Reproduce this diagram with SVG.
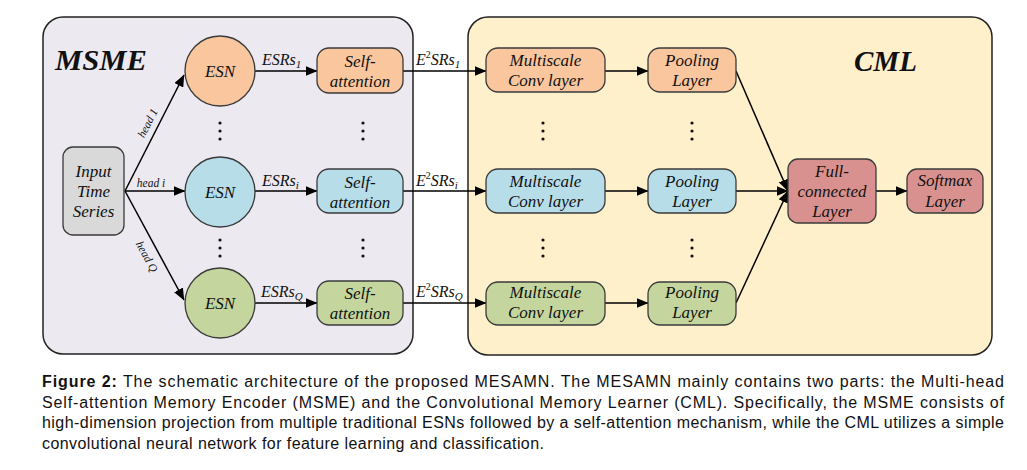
<svg xmlns="http://www.w3.org/2000/svg" width="1027" height="470" viewBox="0 0 1027 470">
<style>
.bg{fill:#fff}
.panel{stroke:#222;stroke-width:1.5}
.node{stroke:#3a3a3a;stroke-width:1.3}
.nt{font-family:"Liberation Serif","Times New Roman",serif;font-style:italic;font-size:17px;fill:#111;text-anchor:middle}
.lbl{font-family:"Liberation Serif","Times New Roman",serif;font-style:italic;font-size:16px;fill:#111}
.hd{font-family:"Liberation Serif","Times New Roman",serif;font-style:italic;font-size:11.5px;fill:#111;text-anchor:middle}
.title{font-family:"Liberation Serif","Times New Roman",serif;font-style:italic;font-weight:bold;font-size:29px;fill:#111}
.cap{font-family:"Liberation Sans",Arial,sans-serif;font-size:16px;fill:#111}
.conn line{stroke:#000;stroke-width:1.5;marker-end:url(#arr)}
.dot{fill:#111}
.or{fill:#F9C69E}.bl{fill:#B6DDE8}.gr{fill:#C4D69D}.rd{fill:#D9918F}.gy{fill:#D9D9D9}
</style>
<defs>
<marker id="arr" markerWidth="12" markerHeight="10" refX="11.5" refY="5" orient="auto" markerUnits="userSpaceOnUse">
<path d="M0,0 L12,5 L0,10 z" fill="#000"/>
</marker>
</defs>
<rect class="bg" x="0" y="0" width="1027" height="470"/>

<g id="panel-msme">
<rect class="panel" x="43" y="17" width="370" height="337" rx="20" fill="#ECE9F1"/>
<text class="title" x="55" y="70" textLength="92" lengthAdjust="spacingAndGlyphs">MSME</text>
</g>
<g id="panel-cml">
<rect class="panel" x="468" y="17" width="524" height="338" rx="20" fill="#FFF0CC"/>
<text class="title" x="854" y="71">CML</text>
</g>

<g id="connectors" class="conn">
<line x1="125" y1="191" x2="184" y2="75"/>
<line x1="125" y1="191" x2="185" y2="191"/>
<line x1="125" y1="191" x2="184" y2="300"/>
<line x1="255" y1="71" x2="317" y2="71"/>
<line x1="255" y1="191" x2="317" y2="191"/>
<line x1="255" y1="303" x2="317" y2="303"/>
<line x1="403" y1="71" x2="486" y2="71"/>
<line x1="403" y1="191" x2="486" y2="191"/>
<line x1="403" y1="303" x2="486" y2="303"/>
<line x1="605" y1="71" x2="648" y2="71"/>
<line x1="605" y1="191" x2="648" y2="191"/>
<line x1="605" y1="303" x2="648" y2="303"/>
<line x1="736" y1="71" x2="788" y2="191"/>
<line x1="736" y1="191" x2="788" y2="191"/>
<line x1="736" y1="303" x2="788" y2="191"/>
<line x1="876" y1="191" x2="907" y2="191"/>
</g>

<g id="connector-labels">
<text class="hd" transform="translate(147.5,123) rotate(-63)" dy="4">head 1</text>
<text class="hd" x="151" y="187">head i</text>
<text class="hd" transform="translate(147,256.5) rotate(61.6)" dy="4">head Q</text>
<text class="lbl" x="262" y="65">ESRs<tspan font-size="11" dy="3">1</tspan></text>
<text class="lbl" x="262" y="186">ESRs<tspan font-size="11" dy="3">i</tspan></text>
<text class="lbl" x="261" y="297">ESRs<tspan font-size="11" dy="3">Q</tspan></text>
<text class="lbl" x="416" y="65">E<tspan font-size="10" font-style="normal" dy="-7">2</tspan><tspan dy="7">SRs</tspan><tspan font-size="11" dy="3">1</tspan></text>
<text class="lbl" x="416" y="186">E<tspan font-size="10" font-style="normal" dy="-7">2</tspan><tspan dy="7">SRs</tspan><tspan font-size="11" dy="3">i</tspan></text>
<text class="lbl" x="416" y="297">E<tspan font-size="10" font-style="normal" dy="-7">2</tspan><tspan dy="7">SRs</tspan><tspan font-size="11" dy="3">Q</tspan></text>
</g>

<g id="ellipses">
<circle class="dot" cx="220" cy="123" r="1.6"/><circle class="dot" cx="220" cy="131" r="1.6"/><circle class="dot" cx="220" cy="139" r="1.6"/>
<circle class="dot" cx="220" cy="240" r="1.6"/><circle class="dot" cx="220" cy="248" r="1.6"/><circle class="dot" cx="220" cy="256" r="1.6"/>
<circle class="dot" cx="363" cy="123" r="1.6"/><circle class="dot" cx="363" cy="131" r="1.6"/><circle class="dot" cx="363" cy="139" r="1.6"/>
<circle class="dot" cx="363" cy="240" r="1.6"/><circle class="dot" cx="363" cy="248" r="1.6"/><circle class="dot" cx="363" cy="256" r="1.6"/>
<circle class="dot" cx="543" cy="123" r="1.6"/><circle class="dot" cx="543" cy="131" r="1.6"/><circle class="dot" cx="543" cy="139" r="1.6"/>
<circle class="dot" cx="543" cy="240" r="1.6"/><circle class="dot" cx="543" cy="248" r="1.6"/><circle class="dot" cx="543" cy="256" r="1.6"/>
<circle class="dot" cx="692" cy="123" r="1.6"/><circle class="dot" cx="692" cy="131" r="1.6"/><circle class="dot" cx="692" cy="139" r="1.6"/>
<circle class="dot" cx="692" cy="240" r="1.6"/><circle class="dot" cx="692" cy="248" r="1.6"/><circle class="dot" cx="692" cy="256" r="1.6"/>
</g>

<g id="input">
<rect class="node gy" x="63" y="147" width="61" height="88" rx="10"/>
<text class="nt" x="93.5" y="177">Input</text>
<text class="nt" x="93.5" y="197">Time</text>
<text class="nt" x="93.5" y="217">Series</text>
</g>

<g id="esn-1"><circle class="node or" cx="220" cy="71" r="35"/><text class="nt" x="220" y="77">ESN</text></g>
<g id="esn-i"><circle class="node bl" cx="220" cy="192" r="35"/><text class="nt" x="220" y="198">ESN</text></g>
<g id="esn-q"><circle class="node gr" cx="220" cy="303" r="35"/><text class="nt" x="220" y="309">ESN</text></g>

<g id="sa-1"><rect class="node or" x="317" y="48" width="86" height="45" rx="12"/><text class="nt" x="360" y="67">Self-</text><text class="nt" x="360" y="87">attention</text></g>
<g id="sa-i"><rect class="node bl" x="317" y="169" width="86" height="44" rx="12"/><text class="nt" x="360" y="188">Self-</text><text class="nt" x="360" y="208">attention</text></g>
<g id="sa-q"><rect class="node gr" x="317" y="281" width="86" height="44" rx="12"/><text class="nt" x="360" y="299">Self-</text><text class="nt" x="360" y="319">attention</text></g>

<g id="ms-1"><rect class="node or" x="486" y="48" width="119" height="44" rx="12"/><text class="nt" x="545.5" y="66">Multiscale</text><text class="nt" x="545.5" y="86">Conv layer</text></g>
<g id="ms-i"><rect class="node bl" x="486" y="169" width="119" height="44" rx="12"/><text class="nt" x="545.5" y="187">Multiscale</text><text class="nt" x="545.5" y="207">Conv layer</text></g>
<g id="ms-q"><rect class="node gr" x="486" y="282" width="119" height="43" rx="12"/><text class="nt" x="545.5" y="298">Multiscale</text><text class="nt" x="545.5" y="318">Conv layer</text></g>

<g id="pool-1"><rect class="node or" x="648" y="48" width="88" height="44" rx="12"/><text class="nt" x="692" y="66">Pooling</text><text class="nt" x="692" y="86">Layer</text></g>
<g id="pool-i"><rect class="node bl" x="648" y="169" width="88" height="44" rx="12"/><text class="nt" x="692" y="187">Pooling</text><text class="nt" x="692" y="207">Layer</text></g>
<g id="pool-q"><rect class="node gr" x="648" y="282" width="88" height="43" rx="12"/><text class="nt" x="692" y="298">Pooling</text><text class="nt" x="692" y="318">Layer</text></g>

<g id="fc"><rect class="node rd" x="788" y="159" width="88" height="64" rx="10"/><text class="nt" x="832" y="177">Full-</text><text class="nt" x="832" y="197">connected</text><text class="nt" x="832" y="217">Layer</text></g>
<g id="softmax"><rect class="node rd" x="907" y="169" width="76" height="44" rx="10"/><text class="nt" x="945" y="186">Softmax</text><text class="nt" x="945" y="207">Layer</text></g>

<g id="caption">
<text class="cap" x="42" y="387" textLength="962" lengthAdjust="spacing"><tspan font-weight="bold">Figure 2:</tspan> The schematic architecture of the proposed MESAMN. The MESAMN mainly contains two parts:  the Multi-head</text>
<text class="cap" x="42" y="407.5" textLength="962" lengthAdjust="spacing">Self-attention Memory Encoder (MSME) and the Convolutional Memory Learner (CML). Specifically, the MSME consists of</text>
<text class="cap" x="42" y="428" textLength="962" lengthAdjust="spacing">high-dimension projection from multiple traditional ESNs followed by a self-attention mechanism, while the CML utilizes a simple</text>
<text class="cap" x="42" y="448.5" textLength="502" lengthAdjust="spacing">convolutional neural network for feature learning and classification.</text>
</g>
</svg>
